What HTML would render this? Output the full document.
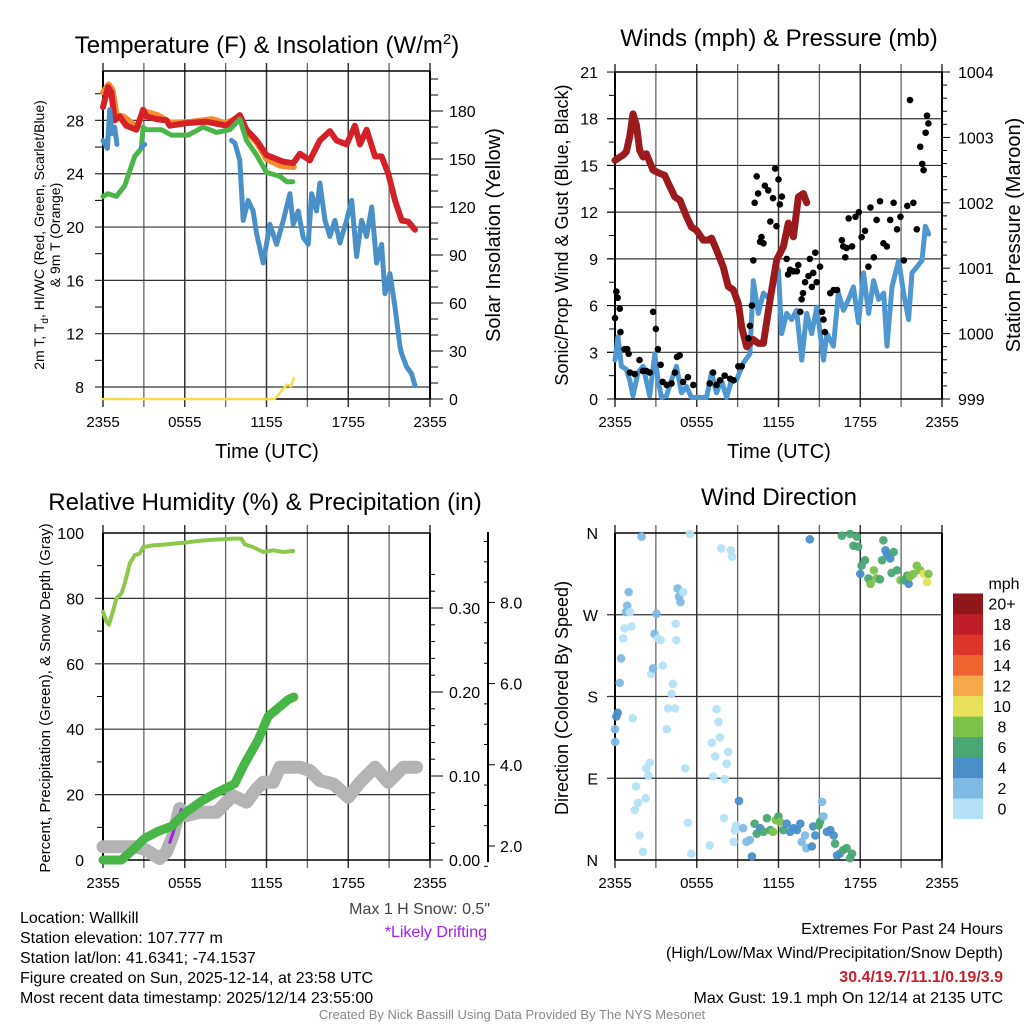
<!DOCTYPE html>
<html><head><meta charset="utf-8"><style>
html,body{margin:0;padding:0;background:#fff;}
svg{display:block;font-family:"Liberation Sans",Arial,sans-serif;}
</style></head><body>
<svg id="c" width="1024" height="1024" viewBox="0 0 1024 1024" xmlns="http://www.w3.org/2000/svg">
<rect width="1024" height="1024" fill="#fff"/>
<g id="g"></g>
<text x="267" y="53" font-size="24" text-anchor="middle">Temperature (F) &amp; Insolation (W/m<tspan dy="-9" font-size="15">2</tspan><tspan dy="9">)</tspan></text>
<text x="779" y="46" font-size="24" text-anchor="middle">Winds (mph) &amp; Pressure (mb)</text>
<text x="265" y="510" font-size="24" text-anchor="middle">Relative Humidity (%) &amp; Precipitation (in)</text>
<text x="779" y="505" font-size="24" text-anchor="middle">Wind Direction</text>
<text x="267" y="458" font-size="20" text-anchor="middle">Time (UTC)</text>
<text x="779" y="458" font-size="20" text-anchor="middle">Time (UTC)</text>
<text transform="translate(44,235) rotate(-90)" font-size="14" text-anchor="middle">2m T, T<tspan dy="4" font-size="10">d</tspan><tspan dy="-4">, HI/WC (Red, Green, Scarlet/Blue)</tspan></text>
<text transform="translate(60,235) rotate(-90)" font-size="14" text-anchor="middle">&amp; 9m T (Orange)</text>
<text transform="translate(500,235) rotate(-90)" font-size="20" text-anchor="middle">Solar Insolation (Yellow)</text>
<text transform="translate(568,235) rotate(-90)" font-size="18" text-anchor="middle">Sonic/Prop Wind &amp; Gust (Blue, Black)</text>
<text transform="translate(1020,235) rotate(-90)" font-size="20" text-anchor="middle">Station Pressure (Maroon)</text>
<text transform="translate(50,698) rotate(-90)" font-size="15" text-anchor="middle">Percent, Precipitation (Green), &amp; Snow Depth (Gray)</text>
<text transform="translate(568,698) rotate(-90)" font-size="18" text-anchor="middle">Direction (Colored By Speed)</text>
<text x="490" y="914" font-size="16" fill="#444" text-anchor="end">Max 1 H Snow: 0.5"</text>
<text x="487" y="937" font-size="16" fill="#a020f0" text-anchor="end">*Likely Drifting</text>
<g font-size="16">
<text x="20" y="923">Location: Wallkill</text>
<text x="20" y="943">Station elevation: 107.777 m</text>
<text x="20" y="963">Station lat/lon: 41.6341; -74.1537</text>
<text x="20" y="983">Figure created on Sun, 2025-12-14, at 23:58 UTC</text>
<text x="20" y="1003">Most recent data timestamp: 2025/12/14 23:55:00</text>
</g>
<g font-size="16" text-anchor="end">
<text x="1003" y="934">Extremes For Past 24 Hours</text>
<text x="1003" y="958">(High/Low/Max Wind/Precipitation/Snow Depth)</text>
<text x="1003" y="982" fill="#c8202a" font-weight="bold">30.4/19.7/11.1/0.19/3.9</text>
<text x="1003" y="1003">Max Gust: 19.1 mph On 12/14 at 2135 UTC</text>
</g>
<text x="512" y="1019" font-size="13" fill="#888" text-anchor="middle">Created By Nick Bassill Using Data Provided By The NYS Mesonet</text>
</svg>
<script>
// ---- Temperature panel data ----
const redH=[0,0.37,0.61,0.86,1.22,1.71,2.45,2.94,3.18,3.92,4.65,4.9,6.12,7.59,9.06,10.04,10.53,11.27,12,13.23,13.96,14.45,15.18,15.92,16.65,17.14,17.88,18.49,18.86,19.35,19.96,20.45,20.94,21.43,21.92,22.41,22.9];
const redT=[29,30.5,30.1,28,28.3,27.6,27.3,28.8,28.3,28.1,28,27.6,27.8,27.9,27.6,28.4,27.3,26.5,25.4,24.9,24.8,25.5,25,26.5,27.2,26.5,26.2,27.6,26.2,27.3,25.3,25.3,24,22,20.5,20.4,19.8];
const orgH=[0,0.4,0.7,1.0,1.5,2.5,3.0,4.0,5.0,6.5,8.0,9.0,10.0,10.5,11.3,12.0,13.0,14.0];
const orgT=[30.1,30.7,30.3,28.4,28.3,27.5,28.7,28.4,27.8,27.9,28.1,27.8,28.2,27.2,26.3,25.1,24.6,24.5];
const grnH=[0,0.37,0.98,1.59,2.33,2.82,2.94,3.18,4.29,5.02,6.25,7.35,8.33,9.31,10.04,10.53,11.27,12.0,13.0,13.48,13.92];
const grnT=[22.3,22.5,22.3,23.1,25.3,25.9,27.5,27.3,27.3,26.9,26.9,27.5,27.1,27.3,28.1,26.5,25.4,24.1,23.8,23.4,23.4];
const bluH=[0,0.32,0.49,0.66,0.86,1.03,null,2.82,3.06,null,9.43,9.68,10.04,10.29,10.65,11.02,11.27,11.76,12.25,12.74,13.23,13.72,13.96,14.33,14.7,15.06,15.31,15.67,15.92,16.29,16.65,17.02,17.39,17.88,18.25,18.61,18.98,19.35,19.72,20.08,20.45,20.7,21.06,21.43,21.8,21.92,22.29,22.65,22.9];
const bluT=[26.5,25.9,28.8,27,27.5,26.2,null,26,26.2,null,26.5,26.3,25,20.5,22,21.2,19.5,17.3,20.2,18.7,20.5,22.5,20.2,21.2,19.2,18.7,22.5,21.2,23.3,20.5,19.3,20.5,18.8,20.5,22,17.8,20.5,19.3,21.5,17.3,18.7,15,16.5,14,11,10.5,9.5,9,8.1];
const solH=[0,12.6,13.0,13.5,13.8,14.0];
const solV=[0,0,4,9,8,13];
// ---- Winds panel data ----
const presH=[0,0.59,0.83,1.08,1.32,1.57,1.81,2.06,2.3,2.79,3.29,3.65,4.02,4.39,4.76,5.25,5.61,5.98,6.47,6.84,7.09,7.45,7.94,8.31,8.68,9.05,9.29,9.66,10.15,10.52,10.89,11.38,11.87,12.36,12.72,13.09,13.46,13.83,14.07];
const presV=[1002.65,1002.73,1002.78,1003.01,1003.36,1003.19,1002.8,1002.7,1002.75,1002.5,1002.45,1002.42,1002.25,1002.09,1002.04,1001.79,1001.63,1001.58,1001.43,1001.43,1001.46,1001.28,1001.02,1000.72,1000.67,1000.46,1000.11,999.8,999.91,999.85,999.85,1000.52,1001.13,1001.33,1001.69,1001.48,1002.09,1002.14,1002.0];
const windH=[0,0.22,0.47,0.83,1.08,1.32,1.69,2.06,2.55,2.92,3.16,3.41,3.78,4.14,4.51,4.88,5.25,5.61,5.98,6.72,7.08,7.45,7.82,8.19,8.56,8.92,9.41,9.9,10.15,10.52,10.89,11.38,11.74,11.99,12.23,12.6,12.97,13.33,13.7,14.07,14.44,14.81,15.3,15.55,16.03,16.4,16.77,17.14,17.5,17.87,18.24,18.61,18.98,19.35,19.72,19.96,20.33,20.82,21.18,21.55,21.8,22.17,22.53,22.78,23.02];
const windV=[2.5,4,2.1,1.9,1.2,0.2,1.7,2.1,0.2,2.9,1.2,0.1,0.2,1.2,2.1,0.4,0.8,0.1,0.1,0.1,1.7,0.4,1.2,0.1,1.2,1.2,2.3,2.9,7.6,5.5,6.8,6.4,8.1,8.3,4.2,5.5,5.1,5.7,2.5,5.5,4.2,5.9,2.5,4.2,3.4,6.8,5.7,6.4,7.2,4.9,8.1,5.5,7.6,6.4,6.8,3.4,7.2,8.9,6.8,5.1,8.1,8.5,8.9,11.1,10.6];
const gustH=[0,0.1,0.2,0.35,0.4,0.7,0.9,1.0,1.1,1.45,1.8,2.05,2.3,2.55,2.8,3.0,3.15,3.35,3.5,3.8,4.15,4.4,4.55,4.75,5.0,5.35,5.75,6.95,7.2,7.45,7.7,8.05,8.45,8.7,9.05,9.3,9.8,9.9,10.05,10.15,10.25,10.4,10.5,10.65,10.75,10.9,11.0,11.25,11.4,11.6,11.75,11.85,12.0,12.1,12.25,12.6,12.7,12.85,13.1,13.35,13.45,13.6,13.7,13.8,13.95,14.2,14.3,14.45,14.55,14.7,14.8,15.05,15.2,15.3,15.4,15.8,16.05,16.3,16.65,16.75,16.9,17.0,17.15,17.4,17.65,17.9,18.1,18.35,18.6,18.75,19.0,19.2,19.45,19.7,19.95,20.2,20.45,20.7,20.95,21.2,21.45,21.65,21.9,22.15,22.4,22.55,22.65,22.8,22.9,23.0];
const gustV=[5.2,6.9,6.5,5.8,4.3,3.2,3.2,2.9,1.7,1.6,2.5,1.8,1.8,1.7,5.6,4.5,3.2,2.2,1.1,0.9,1.0,1.7,2.7,2.8,1.1,1.4,0.9,1.0,1.7,0.9,1.2,1.5,1.3,1.2,2.1,2.1,3.9,4.7,6.0,8.9,12.6,14.3,13.2,10.1,10.4,10.0,13.7,13.4,11.4,12.9,14.8,11.1,14.1,12.5,13.0,9.0,8.0,8.3,8.2,8.2,8.6,5.6,6.4,6.8,7.5,7.9,9.0,7.2,8.1,9.4,7.5,8.5,5.6,5.1,4.3,6.8,7.0,7.0,10.2,9.8,9.1,9.7,11.6,9.8,11.7,12.0,10.4,10.8,8.5,12.3,9.1,11.5,12.7,10.0,9.8,11.5,12.6,10.9,11.7,8.9,12.4,19.2,12.6,10.9,16.2,15.1,14.7,17.1,18.2,17.7];
// ---- Humidity panel data ----
const rhH=[0,0.24,0.44,0.73,0.98,1.35,1.59,1.96,2.33,2.69,2.94,3.67,4.65,5.88,7.1,8.33,9.55,10.16,10.41,11.02,11.76,12.49,13.23,13.72,13.96];
const rhV=[75.9,73,72,76,80,81.5,84.5,90.6,93.2,93.7,95.7,96.2,96.5,97,97.6,98,98.3,98.3,96.5,95.7,94.2,94.7,94.2,94.4,94.5];
const prH=[0,1.35,2.33,3.06,4.04,5.02,6.0,7.22,8.2,9.67,10.41,11.39,12.12,12.86,13.6,14.0];
const prV=[0,0,0.014,0.026,0.034,0.04,0.056,0.07,0.079,0.091,0.115,0.143,0.171,0.181,0.191,0.194];
const snH=[0,2.45,3.18,4.16,4.65,5.14,5.63,6.12,7.1,8.33,9.06,9.55,10.53,11.27,11.76,12.49,12.98,14.45,15.18,15.92,16.9,18.0,18.86,19.96,20.94,22.04,23.02];
const snV=[1.98,1.98,1.9,1.69,1.85,2.26,2.92,2.75,2.83,2.83,3.08,3.24,3.08,3.41,3.57,3.57,3.94,3.94,3.86,3.61,3.53,3.2,3.57,3.94,3.57,3.94,3.94];
// ---- Wind direction data ----
const dirH=[0,0,0.1,0.2,0.35,0.45,0.6,0.7,0.8,0.9,1.0,1.1,1.2,1.3,1.45,1.55,1.7,1.8,1.95,2.05,2.25,2.3,2.45,2.55,2.65,2.8,2.9,3.05,3.15,3.35,3.5,3.8,3.9,4.15,4.25,4.4,4.45,4.5,4.6,4.7,4.8,5.0,5.15,5.35,5.5,5.6,6.95,7.1,7.2,7.35,7.45,7.6,7.7,7.8,8.0,8.05,8.2,8.3,8.5,8.6,8.7,8.8,8.9,9.1,9.4,9.65,9.9,10.05,10.25,10.4,10.65,10.9,11.15,11.4,11.6,11.8,12.0,12.1,12.35,12.6,12.85,13.1,13.35,13.6,13.7,13.95,14.05,14.3,14.45,14.55,14.7,14.95,15.05,15.2,15.3,15.55,15.8,16.05,16.15,16.3,16.5,16.75,17.0,17.25,17.4,16.65,17.25,17.5,17.75,17.85,18.0,18.1,18.35,18.6,18.75,19.0,19.2,19.45,19.6,19.7,19.85,19.95,20.2,20.3,20.45,20.7,20.95,21.2,21.45,21.55,21.65,21.9,22.15,22.4,22.65,22.9,23.0];
const dirDeg=[130,144,158,162,195,222,244,255,273,280,295,273,257,156,55,81,63,27,356,9,68,101,93,107,205,211,249,271,244,242,214,144,167,183,194,167,260,242,299,290,284,295,101,41,359,7,16,129,92,114,166,152,135,343,46,89,106,119,341,334,20,33,38,65,35,20,22,4,40,29,35,31,46,33,31,44,48,42,33,40,31,35,33,40,20,27,13,353,15,37,27,38,42,64,48,31,33,27,18,5,7,11,13,2,7,357,359,346,356,345,315,324,330,310,304,319,310,309,330,352,341,337,332,316,339,319,308,308,313,304,312,315,324,319,315,306,315];
const dirSpd=[3,3,5,5,3,3,1,1,3,3,3,1,1,1,1,1,1,1,3,1,1,1,1,1,1,3,3,3,1,1,1,1,1,1,1,1,1,1,3,3,3,1,1,1,1,1,1,1,1,1,1,1,1,1,1,1,1,1,1,1,1,1,1,5,3,3,3,5,7,7,5,7,7,7,9,9,7,9,7,5,5,5,5,5,3,3,3,5,5,5,5,7,7,3,3,5,5,5,7,5,5,7,7,7,7,7,7,7,7,7,5,7,7,7,9,9,9,7,7,7,5,5,5,7,7,7,9,7,7,5,9,9,9,9,11,11,9,11];
const cbLabels=["0","2","4","6","8","10","12","14","16","18","20+"];
const cbColors=["#b5e2f7","#7fbae4","#4a8fc7","#4aa673","#7cc24b","#e7e05a","#f4a847","#ef6330","#dd3429","#bd1e27","#8f1619"];
const timeTicks=["2355","0555","1155","1755","2355"];

const NS="http://www.w3.org/2000/svg";
const G=document.getElementById('g');
function el(tag,attrs,parent){const e=document.createElementNS(NS,tag);for(const k in attrs)e.setAttribute(k,attrs[k]);(parent||G).appendChild(e);return e;}
function mkLine(x1,y1,x2,y2,s,w,p){const e=el('line',{x1:x1,y1:y1,x2:x2,y2:y2,stroke:s,'stroke-width':w},p);

return e;}
function mkText(x,y,t,size,anchor,p){const e=el('text',{x:x,y:y,'font-size':size,'text-anchor':anchor},p);e.textContent=t;

return e;}
function path(hs,vs,xs,ys,color,w,name,cap){let d='',pen=false;for(let i=0;i<hs.length;i++){if(hs[i]===null){pen=false;continue;}d+=(pen?'L':'M')+xs(hs[i]).toFixed(1)+','+ys(vs[i]).toFixed(1);pen=true;}
const e=el('path',{d:d,fill:'none',stroke:color,'stroke-width':w,'stroke-linejoin':'round','stroke-linecap':cap||'round'});

return e;}

function panel(x0,x1,y0,y1,hLines,name){
  const g=el('g',{});
  
  
  for(let i=0;i<=8;i++){const x=x0+(x1-x0)*i/8;mkLine(x,y0-8,x,y1+8,i%2?'#666':'#333',i%2?1.3:1.5,g);}
  hLines.forEach(y=>mkLine(x0-8,y,x1,y,'#333',1.2,g));
  mkLine(x0,y0,x1,y0,'#000',1.5,g);mkLine(x0,y1,x1,y1,'#000',1.5,g);
  mkLine(x0,y0,x0,y1,'#000',2,g);mkLine(x1,y0,x1,y1,'#000',2,g);
  timeTicks.forEach((t,i)=>mkText(x0+(x1-x0)*i/4,y1+28,t,15,'middle',g));
  return g;
}
// ===== Top-left =====
const X1=h=>103+h*327/24, Yt=v=>387-(v-8)*13.33, Ys=s=>399-s*1.6;
panel(103,430,71,399,[28,24,20,16,12,8].map(Yt),'temperature-panel');
[28,24,20,16,12,8].forEach(v=>mkText(84,Yt(v)+6,String(v),16,'end'));
for(let v=10;v<=30;v+=4)mkLine(95,Yt(v),103,Yt(v),'#000',1);
for(let s=0;s<=200;s+=10)mkLine(430,Ys(s),s%30?438:443,Ys(s),'#000',1);
[0,30,60,90,120,150,180].forEach(s=>mkText(449,Ys(s)+6,String(s),16,'start'));
path(solH,solV,X1,Ys,'#f3df4e',2.5,'solar-line');
path(orgH,orgT,X1,Yt,'#f58c2e',6,'temp-9m-line');
path(redH,redT,X1,Yt,'#d42127',6,'temp-2m-line');
path(grnH,grnT,X1,Yt,'#4ab549',5,'dewpoint-line');
path(bluH,bluT,X1,Yt,'#4a90c8',5,'windchill-line');
// ===== Top-right =====
const X2=h=>615+h*327/24, Yw=v=>399-v*15.57, Yp=p=>399-(p-999)*65.4;
panel(615,942,72,399,[3,6,9,12,15,18].map(Yw),'winds-panel');
for(let v=0;v<=21;v+=3)mkText(598,Yw(v)+6,String(v),16,'end');
for(let v=0;v<=21;v+=1.5)mkLine(v%3?609:607,Yw(v),615,Yw(v),'#000',1);
for(let p=999;p<=1004.01;p+=0.2)mkLine(942,Yp(p),Math.abs(p-Math.round(p))<0.01?950:947,Yp(p),'#000',1);
for(let p=999;p<=1004;p++)mkText(958,Yp(p)+6,String(p),16,'start');
path(windH,windV,X2,Yw,'#4f97d0',5,'wind-speed-line');
path(presH,presV,X2,Yp,'#9b1a1c',7,'pressure-line');
gustH.forEach((h,i)=>{const c=el('circle',{cx:X2(h),cy:Yw(gustV[i]),r:3.3,fill:'#000'});

});
// ===== Bottom-left =====
const X3=X1, Yr=v=>860-v*3.27, Ypr=p=>860-p*840, Ysn=s=>846-(s-2)*40.6;
panel(103,430,533,860,[20,40,60,80].map(Yr),'humidity-panel');
for(let v=0;v<=100;v+=20)mkText(84,Yr(v)+6,String(v),16,'end');
for(let v=10;v<=90;v+=20)mkLine(97,Yr(v),103,Yr(v),'#000',1);
for(let p=0;p<=0.36;p+=0.02){const mj=Math.round(p*100)%10===0;mkLine(430,Ypr(p),mj?443:435,Ypr(p),'#000',1);}
["0.00","0.10","0.20","0.30"].forEach((t,i)=>mkText(449,Ypr(i*0.1)+6,t,16,'start'));
mkLine(488,532,488,862,'#000',2);
for(let s=1.5;s<=9.5;s+=0.5)mkLine(Number.isInteger(s/2)?488:484,Ysn(s),Number.isInteger(s/2)?495:488,Ysn(s),'#000',1);
["2.0","4.0","6.0","8.0"].forEach((t,i)=>mkText(500,Ysn(2+i*2)+6,t,16,'start'));
path(snH,snV,X3,Ysn,'#b4b4b4',13,'snow-depth-line');
path([4.9,5.3,5.75],[0.021,0.04,0.06],X3,Ypr,'#a020f0',3,'drifting-line');
path(prH,prV,X3,Ypr,'#48b547',9,'precip-line');
path(rhH,rhV,X3,Yr,'#8cc84c',4,'humidity-line');
// ===== Bottom-right =====
const X4=X2, Yd=d=>860-d*327/360;
panel(615,942,533,860,[90,180,270].map(Yd),'direction-panel');
["N","E","S","W","N"].forEach((t,i)=>mkText(598,Yd(i*90)+6,t,16,'end'));
function spdColor(s){return cbColors[Math.min(10,Math.floor(s/2))];}
dirH.forEach((h,i)=>{const c=el('circle',{cx:X4(h),cy:Yd(dirDeg[i]),r:4.3,fill:spdColor(dirSpd[i]),'fill-opacity':0.95});

});
const cb=el('g',{});


cbColors.forEach((col,i)=>{const y=798.5-i*20.5;const r=el('rect',{x:953,y:y,width:30,height:20.6,fill:col},cb);


mkText(1002,y+16,cbLabels[i],16,'middle',cb);});
mkText(1004,589,'mph',16,'middle',cb);
</script>
</body></html>
